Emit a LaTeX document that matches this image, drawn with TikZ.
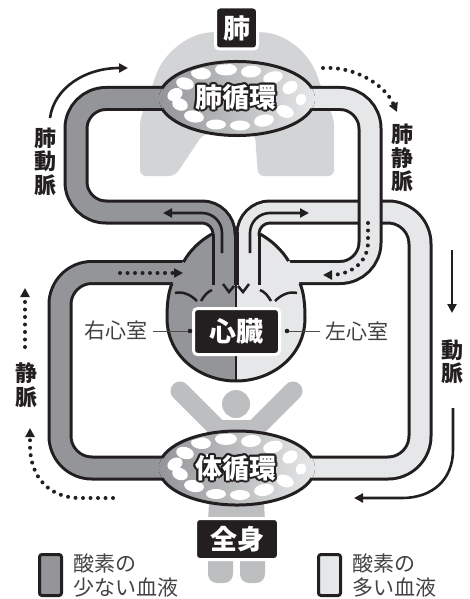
\documentclass[tikz,border=0pt]{standalone}
\usepackage{fontspec}
\newfontfamily\jp{Noto Sans CJK JP}
\usetikzlibrary{arrows.meta,calc}
\definecolor{inkc}{HTML}{231F20}
\definecolor{veinc}{HTML}{939598}
\definecolor{arterc}{HTML}{E6E7E8}
\definecolor{lungc}{HTML}{D3D4D6}
\definecolor{bodyc}{HTML}{BCBEC0}
\begin{document}
\begin{tikzpicture}[x=1pt,y=-1pt,
  tube/.style={line width=3pt, double distance=19pt, draw=inkc},
  wall/.style={line width=3pt, draw=inkc},
  valve/.style={line width=2.5pt, draw=inkc},
  flow/.style={line width=2.6pt, draw=inkc, -{Triangle[length=9pt,width=9pt]}},
  dots/.style={line width=4pt, draw=inkc, line cap=round, dash pattern=on 0pt off 7.5pt, -{Triangle[length=9pt,width=9pt]}},
  tag/.style={fill=inkc, draw=white, line width=3pt, rounded corners=4pt, text=white, inner sep=0pt, font=\jp\bfseries\fontsize{27}{27}\selectfont},
  side/.style={text=inkc, align=center, inner sep=0pt, font=\jp\bfseries\fontsize{22}{23.5}\selectfont},
  thin/.style={text=inkc!85, inner sep=0pt, font=\jp\fontsize{21}{24}\selectfont},
  ring/.style={inner sep=0pt, font=\jp\bfseries\fontsize{27}{27}\selectfont},
  key/.style={draw=inkc, line width=3pt, rounded corners=2.5pt, minimum width=22pt, minimum height=41pt, inner sep=0pt},
]
\useasboundingbox (0,0) rectangle (469,599);

% lungs
\fill[lungc, rounded corners=6] (237,32) -- (213,32) .. controls (188,35) and (163,52) .. (153,84) -- (140,120) -- (140,176) -- (175,176) -- (203,134) -- (255,134) -- (258,176) -- (334,176) -- (334,120) -- (320,84) .. controls (310,52) and (286,35) .. (261,32) -- cycle;

% body silhouette
\fill[bodyc] (236,404) circle[radius=14];
\draw[bodyc, line width=19pt, line cap=round] (180,391) -- (221,432);
\draw[bodyc, line width=19pt, line cap=round] (293,391) -- (252,432);
\fill[bodyc] (213,420) -- (260,420) -- (265,522) -- (208,522) -- cycle;
\fill[bodyc, rounded corners=9] (208,515) rectangle (233,583);
\fill[bodyc, rounded corners=9] (240,515) rectangle (265,583);

% vessels
\draw[tube, double=arterc] (248,290) -- (248,234) arc[start angle=180, end angle=270, radius=22] -- (388,212) arc[start angle=270, end angle=360, radius=32] -- (420,436) arc[start angle=0, end angle=90, radius=32] -- (300,468);
\draw[tube, double=veinc] (224,290) -- (224,234) arc[start angle=0, end angle=-90, radius=22] -- (106,212) arc[start angle=90, end angle=180, radius=30] -- (76,128.5) arc[start angle=180, end angle=270, radius=30] -- (175,98.5);
\draw[tube, double=veinc] (192,272.5) -- (92,272.5) arc[start angle=270, end angle=180, radius=32] -- (60,436) arc[start angle=180, end angle=90, radius=32] -- (175,468);
\draw[tube, double=arterc] (300,98.5) -- (340,98.5) arc[start angle=270, end angle=360, radius=30] -- (370,242.5) arc[start angle=0, end angle=90, radius=30] -- (282,272.5);

% heart
\fill[veinc] (236,236) -- (212,236) .. controls (201,240) and (190,250) .. (183,261) -- (172,285) .. controls (168,293) and (167,305) .. (167,318) .. controls (167,356) and (200,381) .. (236,381) -- cycle;
\fill[arterc] (236,236) -- (260,236) .. controls (271,240) and (282,250) .. (289,260) -- (300,285) .. controls (304,293) and (305,305) .. (305,318) .. controls (305,356) and (272,381) .. (236,381) -- cycle;
\draw[wall] (212,234) .. controls (201,240) and (190,250) .. (183.5,262);
\draw[wall] (260,234) .. controls (271,240) and (282,250) .. (288.5,261);
\draw[wall] (172,283.5) .. controls (168,293) and (167,305) .. (167,318) .. controls (167,356) and (200,381) .. (236,381) .. controls (272,381) and (305,356) .. (305,318) .. controls (305,305) and (304,293) .. (300,283.5);
\draw[wall] (213,234) -- (213,285);
\draw[wall] (259,234) -- (259,285);
\draw[inkc, line width=5pt] (236,232) -- (236,285);
\draw[inkc, line width=2.5pt] (236,284) -- (236,381);
\draw[valve] (175,293) .. controls (183,291) and (191,295) .. (197,301);
\draw[valve] (201,301) .. controls (204,296) and (207,292) .. (212,290);
\draw[valve] (297,293) .. controls (289,291) and (281,295) .. (275,301);
\draw[valve] (271,301) .. controls (268,296) and (265,292) .. (260,290);
\draw[valve] (223,284) -- (229,292) -- (234,286);
\draw[valve] (249,284) -- (243,292) -- (238,286);

% flow arrows inside the great arteries
\draw[flow] (222,253) -- (222,233) arc[start angle=0, end angle=-90, radius=20] -- (163,213);
\draw[flow] (250,253) -- (250,233) arc[start angle=180, end angle=270, radius=20] -- (309,213);

% capillary beds
\foreach \cy in {98.5, 468}{
  \begin{scope}
    \fill[left color=veinc, right color=arterc] (237,\cy) ellipse[x radius=78, y radius=37];
    \clip (237,\cy) ellipse[x radius=75.5, y radius=34.5];
    \foreach \bx/\by/\ra/\rb/\rt in {-62/-4/8/6/30, -52/-15/9/6/-15, -36/-25/10/6/-5, -11/-29/11/6/0, 14/-27/10/6/5, 36/-21/10/6/15, 53/-11/8/6/30, 64/1/6/5/60, -57/6/8/6/-20, -43/18/10/6/-10, -21/26/10/5/0, 3/27/10/5/0, 27/22/10/6/10, 48/13/9/6/-20, -28/-8/8/6/0, 30/5/8/6/0}
      \fill[white, rotate around={\rt:(237+\bx,\cy+\by)}] (237+\bx,\cy+\by) ellipse[x radius=\ra, y radius=\rb];
  \end{scope}
  \draw[wall] (311.98,\cy+10.2) arc[start angle=16, end angle=164, x radius=78, y radius=37];
  \draw[wall] (162.02,\cy-10.2) arc[start angle=196, end angle=344, x radius=78, y radius=37];
}

% bed titles, white with a dark edge
\foreach \a in {0,30,...,330}{
  \node[ring, text=inkc] at ($(236,97)+(\a:2)$) {肺循環};
  \node[ring, text=inkc] at ($(236,468)+(\a:2)$) {体循環};
}
\node[ring, text=white] (lungTitle) at (236,97) {肺循環};
\node[ring, text=white] (bodyTitle) at (236,468) {体循環};

% tags
\node[tag, minimum width=42pt, minimum height=42pt] (lungTag) at (236.5,28) {肺};
\node[tag, minimum width=86pt, minimum height=46pt] (heartTag) at (236.5,331.5) {心臓};
\node[tag, minimum width=83pt, minimum height=41pt] (bodyTag) at (237,539) {全身};

% vessel names
\node[side] (paName) at (45,161.5) {肺\\動\\脈};
\node[side] (pvName) at (402,158) {肺\\静\\脈};
\node[side] (artName) at (452,361.5) {動\\脈};
\node[side] (veinName) at (26,385) {静\\脈};

% ventricle labels
\node[thin] (rvName) at (116,331) {右心室};
\node[thin] (lvName) at (357,331) {左心室};
\coordinate (rvDot) at (190,331);
\coordinate (lvDot) at (287,331);
\draw[inkc!80, line width=1pt] ([xshift=5pt]rvName.east) -- (rvDot);
\draw[inkc!80, line width=1pt] ([xshift=-5pt]lvName.west) -- (lvDot);
\fill[inkc] (rvDot) circle[radius=2.3];
\fill[inkc] (lvDot) circle[radius=2.3];

% circulation direction arrows
\draw[flow] (50,118) .. controls (54,88) and (85,68) .. (128,68);
\draw[dots] (323,68) .. controls (355,66) and (385,85) .. (397,112);
\draw[flow] (452,250) -- (452,313);
\draw[flow] (453,408) -- (453,450) .. controls (453,480) and (432,498) .. (402,498) -- (354,498);
\draw[dots] (25,347) -- (25,288);
\draw[dots] (113,498) -- (80,498) .. controls (50,498) and (30,478) .. (30,445) -- (30,428);
\draw[dots] (120,273) -- (183,273);
\draw[dots] (368,223) -- (368,242) .. controls (368,262) and (352,274) .. (332,275) -- (323,275);

% legend
\node[key, fill=veinc] (keyDark) at (50.5,575) {};
\node[thin, anchor=west, align=left] (keyDarkText) at (73,576) {酸素の\\少ない血液};
\node[key, fill=arterc] (keyLight) at (329.5,575) {};
\node[thin, anchor=west, align=left] (keyLightText) at (352,576) {酸素の\\多い血液};
\end{tikzpicture}
\end{document}
